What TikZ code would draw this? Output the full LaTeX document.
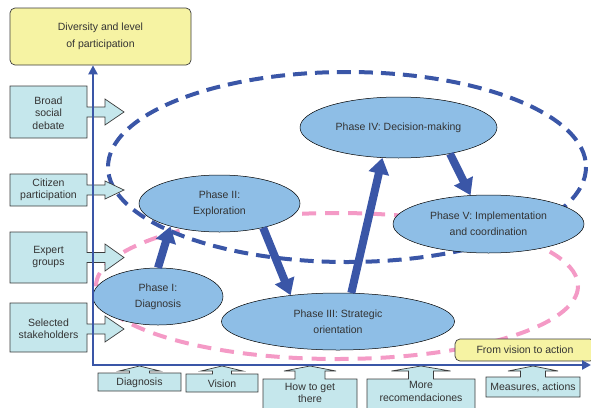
\documentclass[tikz,border=0pt]{standalone}
\usepackage{fontspec}
\setmainfont{Liberation Sans}
\usetikzlibrary{shapes.geometric, arrows.meta}

\definecolor{arrowblue}{HTML}{3A56A7}
\definecolor{pinkline}{HTML}{F49AC6}
\definecolor{phasefill}{HTML}{8EBEE6}
\definecolor{boxcyan}{HTML}{C5E7EC}
\definecolor{noteyellow}{HTML}{F6F3A3}
\definecolor{boxgray}{HTML}{3C3C3C}
\definecolor{textgray}{HTML}{333333}

% box on the left with an arrow pointing right: top, bottom, tip y, half head
\newcommand{\sideshape}[4]{%
  \draw[boxline] (10,#1) -- (87,#1) -- (87,#3-5) -- (105,#3-5) -- (105,#3-#4) -- (124,#3)
    -- (105,#3+#4) -- (105,#3+5) -- (87,#3+5) -- (87,#2) -- (10,#2) -- cycle;}

% box at the bottom with an arrow pointing up: left, right, top, bottom, half stem, half head
\newcommand{\bottomshape}[6]{%
  \pgfmathsetmacro{\bxmid}{(#1+#2)/2}
  \draw[boxline] (#1,#3) -- (\bxmid-#5,#3) -- (\bxmid-#5,371) -- (\bxmid-#6,371) -- (\bxmid,366)
    -- (\bxmid+#6,371) -- (\bxmid+#5,371) -- (\bxmid+#5,#3) -- (#2,#3) -- (#2,#4) -- (#1,#4) -- cycle;}

\begin{document}
\begin{tikzpicture}[
  x=1pt, y=-1pt,
  phase/.style={ellipse, draw=black, line width=0.5pt, fill=phasefill, inner sep=0pt,
    align=center, text=textgray, font=\fontsize{10.5}{16}\selectfont},
  note/.style={rectangle, rounded corners=5pt, draw=boxgray, line width=0.7pt, fill=noteyellow,
    align=center, text=textgray, font=\fontsize{10.5}{17}\selectfont},
  boxline/.style={draw=boxgray, line width=0.7pt, fill=boxcyan},
  boxtext/.style={align=center, inner sep=0pt, text=textgray, font=\fontsize{10.5}{12.5}\selectfont},
  fat/.style={draw=arrowblue, line width=8pt, -{Triangle[width=20pt,length=16pt]}},
  axisline/.style={draw=arrowblue, line width=2.2pt,
    {Triangle[width=9pt,length=9pt]}-{Triangle[width=9pt,length=9pt]}},
  bluedash/.style={draw=arrowblue, line width=4pt, dash pattern=on 14pt off 8pt},
  pinkdash/.style={draw=pinkline, line width=4pt, dash pattern=on 14pt off 9pt}
]
  \useasboundingbox (0,0) rectangle (591,407);

  % Dashed groups
  \draw[pinkdash] (337,286) ellipse [x radius=241, y radius=73];
  \draw[bluedash] (347,167) ellipse [x radius=239, y radius=95];

  % Phases
  \node[phase, minimum width=130, minimum height=57] (p1) at (158,296.5) {Phase I:\\Diagnosis};
  \node[phase, minimum width=161, minimum height=57] (p2) at (219.5,203.5) {Phase II:\\Exploration};
  \node[phase, minimum width=233, minimum height=57] (p3) at (338,321.5) {Phase III: Strategic\\orientation};
  \node[phase, minimum width=197, minimum height=61] (p4) at (398.5,127.5) {Phase IV: Decision-making};
  \node[phase, minimum width=191, minimum height=58] (p5) at (488.5,224) {Phase V: Implementation\\and coordination};

  % Left boxes
  \sideshape{86}{138}{112}{13}
  \sideshape{174}{206}{190}{9}
  \sideshape{232}{283}{257.5}{13.5}
  \sideshape{303}{352}{329}{13}
  \node[boxtext] (broad) at (48.5,113) {Broad\\social\\debate};
  \node[boxtext] (citizen) at (48.5,190) {Citizen\\participation};
  \node[boxtext] (expert) at (48.5,257) {Expert\\groups};
  \node[boxtext] (selected) at (48.5,328.5) {Selected\\stakeholders};

  % Bottom boxes
  \bottomshape{98}{181}{373}{391}{10}{20.5}
  \bottomshape{186}{258}{374}{392}{9.5}{21}
  \bottomshape{263}{357}{379}{412}{15}{26}
  \bottomshape{367}{475}{379}{412}{12.5}{29.5}
  \bottomshape{486}{580}{377}{397}{12.5}{25}
  \node[boxtext] (diag) at (139.5,382.5) {Diagnosis};
  \node[boxtext] (vision) at (222,383.5) {Vision};
  \node[boxtext] (howto) at (310,393) {How to get\\there};
  \node[boxtext] (more) at (421,391.5) {More\\recomendaciones};
  \node[boxtext] (measures) at (533,387.5) {Measures, actions};

  % Notes
  \node[note, minimum width=181, minimum height=57] (level) at (100.5,36.5) {Diversity and level\\of participation};
  \node[note, minimum width=140, minimum height=22] (action) at (525,350) {From vision to action};

  % Axes
  \coordinate (origin) at (93,365);
  \coordinate (xtip) at (591,365);
  \draw[axisline] (origin |- level.south) -- (origin) -- (xtip);

  % Flow between phases
  \draw[fat] (p1.north) -- (p2.205);
  \draw[fat] (p2.331) -- (p3.151);
  \draw[fat] (p3.65) -- (p4.242);
  \draw[fat] (p4.333) -- (p5.122);

\end{tikzpicture}
\end{document}
